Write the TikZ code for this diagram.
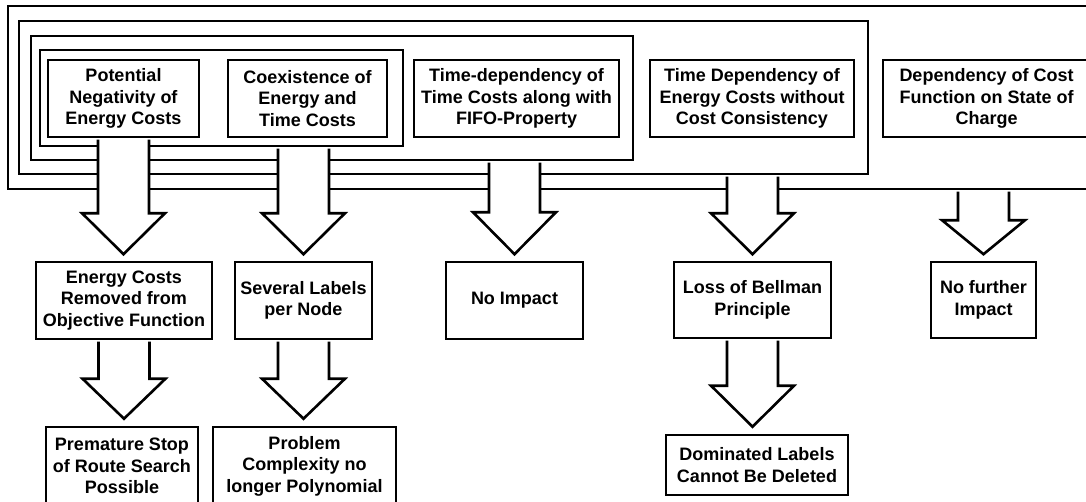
\documentclass[tikz,border=0pt]{standalone}
\usepackage{fontspec}
\setmainfont{Liberation Sans}
\usetikzlibrary{calc,fit}

\tikzset{
  frame/.style={draw, line width=2.6pt, inner sep=0pt, line join=miter},
  box/.style={draw, line width=2.6pt, inner sep=0pt, align=center, line join=miter,
    font=\fontsize{18}{21.5}\selectfont\bfseries},
  blockarrow/.style={draw=black, fill=white, line width=2.6pt, line join=miter},
}

% block arrow: #1 start of the shaft, #2 target node, #3 gap to the target, #4 head length
\newcommand{\blockarrow}[4]{%
  \coordinate (s) at (#1);
  \coordinate (t) at ($(s |- #2.north)+(0,-#3)$);
  \path[blockarrow]
    ($(s)+(-25.5,1.3)$) -- ($(t)+(-25.5,-#4)$) -- ($(t)+(-41.5,-#4)$)
    -- (t) -- ($(t)+(41.5,-#4)$) -- ($(t)+(25.5,-#4)$)
    -- ($(s)+(25.5,1.3)$);}

\begin{document}
\begin{tikzpicture}[x=1pt,y=-1pt]
\useasboundingbox (0,0) rectangle (1086,501);
\clip (0,0) rectangle (1086,501);

% nested frames
\node[frame, fit={(8,6) (1098,189)}] (f1) {};
\node[frame, fit={(19,21) (868,174)}] (f2) {};
\node[frame, fit={(31,36) (633,160)}] (f3) {};
\node[frame, fit={(40,50) (403,146)}] (f4) {};

% properties
\node[box, minimum width=151pt, minimum height=77pt] (A) at (123.5,98.5)
  {Potential\\Negativity of\\Energy Costs};
\node[box, minimum width=159pt, minimum height=77pt] (B) at (307.5,98.5)
  {Coexistence of\\Energy and\\Time Costs};
\node[box, minimum width=205pt, minimum height=77pt] (C) at (516.5,98.5)
  {Time-dependency of\\Time Costs along with\\FIFO-Property};
\node[box, minimum width=204pt, minimum height=77pt] (D) at (752,98.5)
  {Time Dependency of\\Energy Costs without\\Cost Consistency};
\node[box, minimum width=207pt, minimum height=77pt] (E) at (986.5,98.5)
  {Dependency of Cost\\Function on State of\\Charge};

% consequences
\node[box, minimum width=176pt, minimum height=77pt] (A2) at (124,300.5)
  {Energy Costs\\Removed from\\Objective Function};
\node[box, minimum width=137pt, minimum height=77pt] (B2) at (303.5,300.5)
  {Several Labels\\per Node};
\node[box, minimum width=137pt, minimum height=77pt] (C2) at (514.5,300.5)
  {No Impact};
\node[box, minimum width=157pt, minimum height=76pt] (D2) at (752.5,300)
  {Loss of Bellman\\Principle};
\node[box, minimum width=105pt, minimum height=76pt] (E2) at (983.5,300)
  {No further\\Impact};

\node[box, minimum width=152pt, minimum height=78pt] (A3) at (122,466)
  {Premature Stop\\of Route Search\\Possible};
\node[box, minimum width=183pt, minimum height=78pt] (B3) at (304.5,466)
  {Problem\\Complexity no\\longer Polynomial};
\node[box, minimum width=182pt, minimum height=60pt] (D3) at (757,465)
  {Dominated Labels\\Cannot Be Deleted};

% block arrows
\blockarrow{A.south}{A2}{6.5}{41}
\blockarrow{B2.north |- f4.south}{B2}{6.5}{41}
\blockarrow{C2.north |- f3.south}{C2}{6.5}{42}
\blockarrow{D2.north |- f2.south}{D2}{6.5}{41}
\blockarrow{E2.north |- f1.south}{E2}{6.5}{34}
\blockarrow{A2.south}{A3}{7}{40}
\blockarrow{B2.south}{B3}{7}{40}
\blockarrow{D2.south}{D3}{7}{41}
\end{tikzpicture}
\end{document}
